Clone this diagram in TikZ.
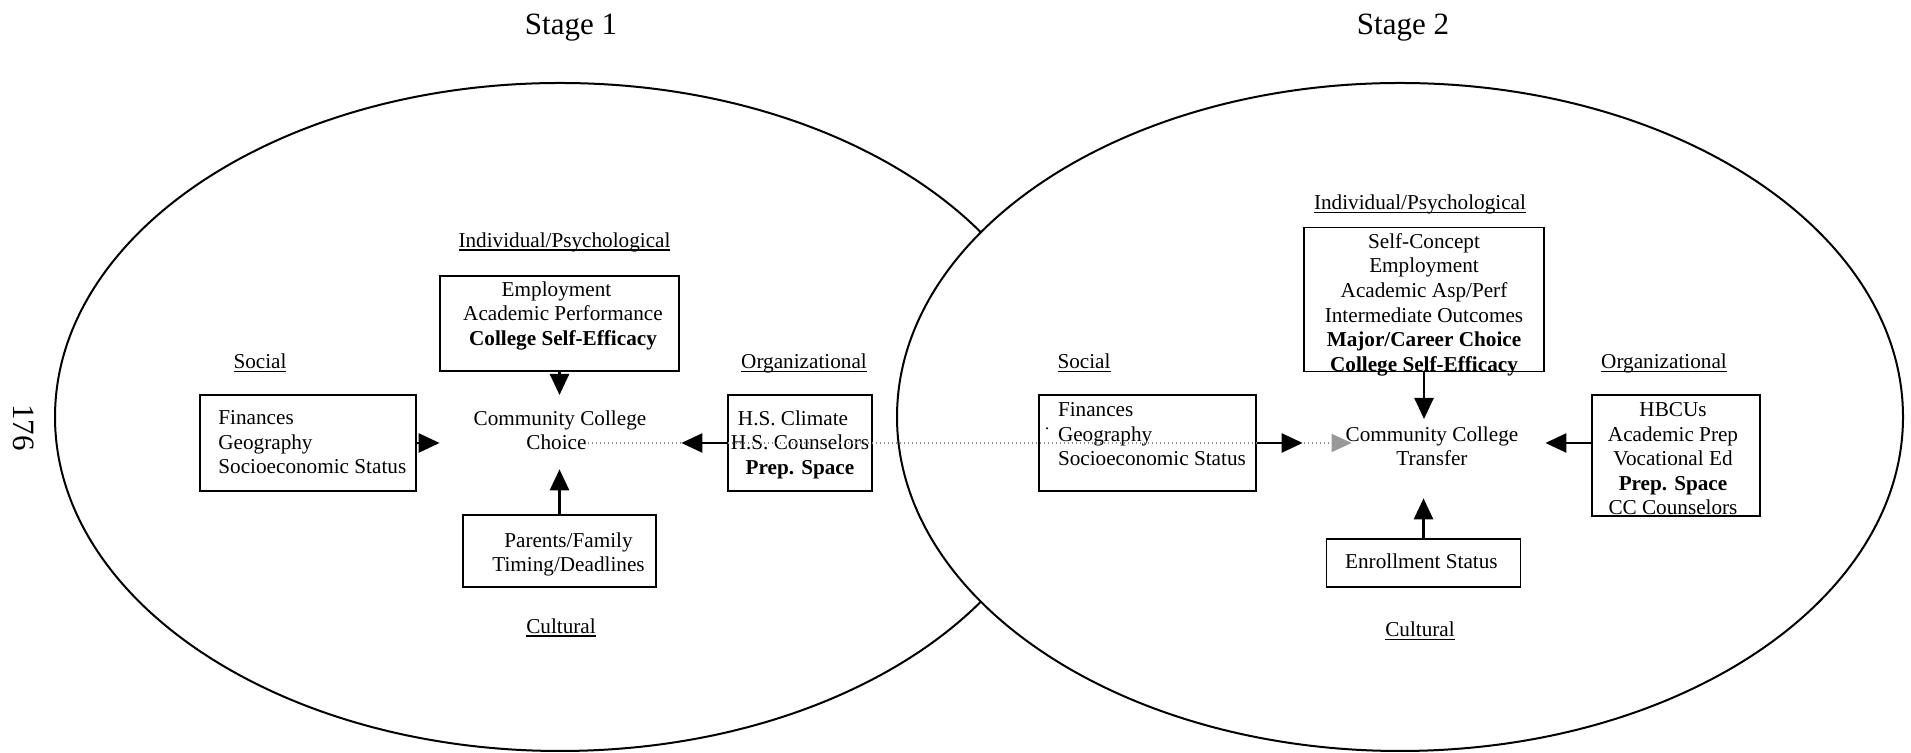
\documentclass[tikz,border=0pt]{standalone}
\usepackage{fontspec}
\setmainfont{Liberation Serif}
\usetikzlibrary{arrows.meta,calc}

\newsavebox\undlbox
\newcommand{\undl}[1]{\sbox\undlbox{#1}\rlap{\rule[-1.7pt]{\wd\undlbox}{0.7pt}}\usebox\undlbox}

\begin{document}
\begin{tikzpicture}[box/.style={draw, line width=0.9pt, inner sep=0pt},
	txt/.style={font=\fontsize{10.6pt}{12.3pt}\selectfont, inner sep=0pt, align=center},
	lbl/.style={txt, anchor=base},
	stage/.style={font=\fontsize{15.5pt}{18pt}\selectfont, inner sep=0pt},
	arr/.style={line width=1.3pt, -{Triangle[length=10.5pt, width=9.5pt]}},
	dotline/.style={draw=black!45, line width=0.6pt, dash pattern=on 0.6pt off 1.4pt}]
	\useasboundingbox (0,0) rectangle (955.5pt,376.5pt);

	% the two stages
	\draw [line width=1pt] (280pt,168pt) ellipse [x radius=252.5pt, y radius=167pt];
	\draw [line width=1pt, fill=white] (700pt,168pt) ellipse [x radius=251.5pt, y radius=167pt];
	\node (St1) [stage, anchor=base] at (285.5pt,359.2pt) {Stage 1};
	\node (St2) [stage, anchor=base] at (701.5pt,359.2pt) {Stage 2};
	\node (pg) [stage, rotate=-90] at (11.9pt,162.75pt) {176};

	% stage 1
	\node (Ind1) [box, minimum width=119.5pt, minimum height=47.5pt] at (279.75pt,214.75pt) {};
	\node (Ind1t) [txt, anchor=north] at (281.5pt,236pt) {Employment\hspace*{6.5pt}\\Academic Performance\\\textbf{College Self-Efficacy}};
	\node (Soc1) [box, minimum width=108pt, minimum height=48pt] at (154pt,155pt) {};
	\node (Soc1t) [txt, align=left, anchor=north west] at (109pt,171.5pt) {Finances\\Geography\\Socioeconomic Status};
	\node (Org1) [box, minimum width=72pt, minimum height=48pt] at (400pt,155pt) {};
	\node (Org1t) [txt, anchor=north] at (400pt,171.5pt) {H.S. Climate\hspace*{7pt}\\H.S. Counselors\\\textbf{Prep. Space}};
	\node (Par1) [box, minimum width=96.5pt, minimum height=36pt] at (279.75pt,101pt) {};
	\node (Par1t) [txt, anchor=north] at (284.25pt,110.5pt) {Parents/Family\\Timing/Deadlines};
	\node (CC1t) [txt, anchor=north] at (280pt,171.5pt) {Community College\\Choice\hspace*{3.5pt}};

	\node (Ind1l) [lbl] at (282.25pt,252.8pt) {\undl{Individual/Psychological}};
	\node (Soc1l) [lbl] at (130pt,192pt) {\undl{Social}};
	\node (Org1l) [lbl] at (402pt,192pt) {\undl{Organizational}};
	\node (Cul1l) [lbl] at (280.5pt,59.8pt) {\undl{Cultural}};

	% stage 2
	\node (Ind2) [box, minimum width=120pt, minimum height=72pt] at (712pt,226.75pt) {};
	\node (Ind2t) [txt, anchor=north] at (712pt,260pt) {Self-Concept\\Employment\\Academic Asp/Perf\\Intermediate Outcomes\\\textbf{Major/Career Choice}\\\textbf{College Self-Efficacy}};
	\node (Soc2) [box, minimum width=108.5pt, minimum height=48pt] at (573.75pt,155pt) {};
	\node (Soc2t) [txt, align=left, anchor=north west] at (528.8pt,175.5pt) {Finances\\Geography\\Socioeconomic Status};
	\fill (523.5pt,162.35pt) circle (0.6pt);
	\node (Org2) [box, minimum width=84pt, minimum height=60.5pt] at (838pt,148.75pt) {};
	\node (Org2t) [txt, anchor=north] at (836.5pt,175.5pt) {HBCUs\\Academic Prep\\Vocational Ed\\\textbf{Prep. Space}\\CC Counselors};
	\node (Enr2) [box, minimum width=97pt, minimum height=24pt] at (711.75pt,95pt) {};
	\node (Enr2t) [txt] at (710.7pt,96pt) {Enrollment Status};
	\node (CC2t) [txt, anchor=north] at (716pt,163.5pt) {Community College\\Transfer};

	\node (Ind2l) [lbl] at (710pt,271.5pt) {\undl{Individual/Psychological}};
	\node (Soc2l) [lbl] at (542pt,192pt) {\undl{Social}};
	\node (Org2l) [lbl] at (832pt,192pt) {\undl{Organizational}};
	\node (Cul2l) [lbl] at (710pt,58pt) {\undl{Cultural}};

	% dotted link from stage 1 to stage 2
	\coordinate (dot1) at (294pt,155pt);
	\draw [dotline, -{Triangle[length=10pt, width=9pt, fill=black!40, color=black!40]}, shorten >=-3.15pt] (dot1) -- (Soc2.east -| CC2t.west);

	\draw [arr, shorten >=16.85pt] (Soc1.east) -- (Soc1.east -| CC1t.west);
	\draw [arr, shorten >=17.35pt] (Org1.west) -- (Org1.west -| CC1t.east);
	\draw [arr, shorten >=7.5pt] (Ind1.south) -- (Ind1.south |- CC1t.north);
	\draw [arr, shorten >=9.5pt] (Par1.north) -- (Par1.north |- CC1t.south);

	\draw [arr, shorten >=21.35pt] (Soc2.east) -- (Soc2.east -| CC2t.west);
	\draw [arr, shorten >=13.35pt] (Org2.west |- Soc2.east) -- (CC2t.east |- Soc2.east);
	\draw [arr, shorten >=3.5pt] (Ind2.south) -- (Ind2.south |- CC2t.north);
	\draw [arr, shorten >=16pt] (Enr2.north) -- (Enr2.north |- CC2t.south);
\end{tikzpicture}
\end{document}
